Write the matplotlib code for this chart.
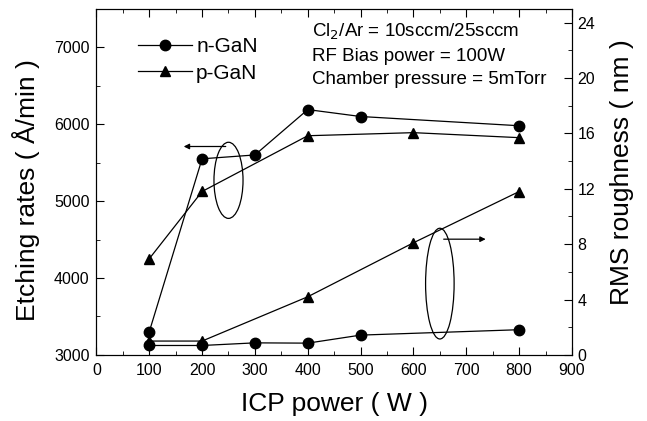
import numpy as np
import matplotlib
matplotlib.use('Agg')
from matplotlib import pyplot as plt
from matplotlib.patches import Ellipse
from matplotlib.ticker import MultipleLocator

plt.rcParams['font.family'] = ['Liberation Sans', 'DejaVu Sans']

# etching rate (A/min), left axis
n_etch_power = [100, 200, 300, 400, 500, 800]
n_etch_rate = [3300, 5550, 5600, 6190, 6100, 5980]
p_etch_power = [100, 200, 400, 600, 800]
p_etch_rate = [4250, 5125, 5850, 5890, 5825]

# RMS roughness (nm), right axis
n_rms_power = [100, 200, 300, 400, 500, 800]
n_rms = [0.68, 0.68, 0.87, 0.85, 1.43, 1.82]
p_rms_power = [100, 200, 400, 600, 800]
p_rms = [1.0, 1.0, 4.2, 8.1, 11.8]

conditions = ['Cl$_2$/Ar = 10sccm/25sccm', 'RF Bias power = 100W', 'Chamber pressure = 5mTorr']

fig = plt.figure(figsize=(6.47, 4.21), dpi=100)
ax = fig.add_axes([0.149, 0.157, 0.735, 0.822])
ax2 = ax.twinx()

mk = dict(color='k', lw=0.9, markersize=7.5)
ax.plot(n_etch_power, n_etch_rate, marker='o', label='n-GaN', **mk)
ax.plot(p_etch_power, p_etch_rate, marker='^', label='p-GaN', **mk)
ax2.plot(n_rms_power, n_rms, marker='o', **mk)
ax2.plot(p_rms_power, p_rms, marker='^', **mk)

ax.set_xlim(0, 900)
ax.set_ylim(3000, 7500)
ax2.set_ylim(0, 25)

ax.xaxis.set_major_locator(MultipleLocator(100))
ax.xaxis.set_minor_locator(MultipleLocator(50))
ax.yaxis.set_major_locator(MultipleLocator(1000))
ax.yaxis.set_minor_locator(MultipleLocator(500))
ax2.yaxis.set_major_locator(MultipleLocator(4))
ax2.yaxis.set_minor_locator(MultipleLocator(2))

ax.tick_params(which='both', direction='in', top=True, labelsize=11.5)
ax.tick_params(which='major', length=6)
ax.tick_params(which='minor', length=3)
ax.tick_params(axis='x', pad=6)
ax.tick_params(axis='y', which='both', right=False, pad=5)
ax2.tick_params(which='both', direction='in', labelsize=11.5, pad=4)
ax2.tick_params(which='major', length=6)
ax2.tick_params(which='minor', length=3)

ax.set_xlabel('ICP power ( W )', fontsize=19)
ax.set_ylabel('Etching rates ( Å/min )', fontsize=19)
ax2.set_ylabel('RMS roughness ( nm )', fontsize=19)
ax.xaxis.set_label_coords(0.5, -0.108)
ax.yaxis.set_label_coords(-0.118, 0.477)
ax2.yaxis.set_label_coords(1.08, 0.529)

ax.legend(loc='upper left', frameon=False, fontsize=15, handlelength=2.6,
          bbox_to_anchor=(0.087, 0.918), borderaxespad=0, borderpad=0,
          handletextpad=0.2, labelspacing=0.35)

for txt, yy in zip(conditions, [0.934, 0.861, 0.795]):
    ax.text(0.453, yy, txt, transform=ax.transAxes, fontsize=13.5, va='center')

# ellipses and arrows
ax.add_patch(Ellipse((250, 5270), 55, 990, fill=False, lw=0.9, ec='k'))
ax.annotate('', xy=(160, 5710), xytext=(250, 5710),
            arrowprops=dict(arrowstyle='-|>', color='k', lw=0.9, mutation_scale=8))
ax2.add_patch(Ellipse((650, 5.15), 54, 8.0, fill=False, lw=0.9, ec='k'))
ax2.annotate('', xy=(742, 8.36), xytext=(652, 8.36),
             arrowprops=dict(arrowstyle='-|>', color='k', lw=0.9, mutation_scale=8))

plt.savefig('out.png', dpi=100)
